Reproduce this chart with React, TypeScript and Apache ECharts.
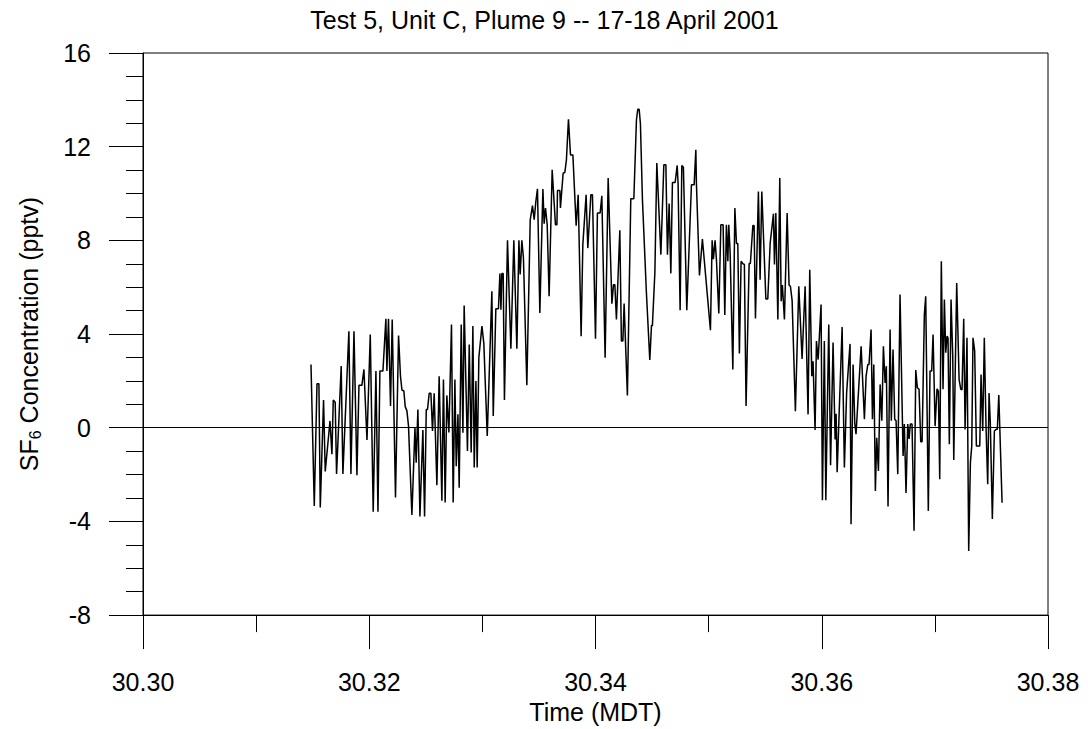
import React, { useEffect, useRef } from "react";
import * as echarts from "echarts";

const TITLE = "Test 5, Unit C, Plume 9 -- 17-18 April 2001";
const X_NAME = "Time (MDT)";
const X_TICKS = [30.3, 30.32, 30.34, 30.36, 30.38];
const Y_TICKS = [-8, -4, 0, 4, 8, 12, 16];

// Time (MDT, decimal day) of each sample
const TIME = [
  30.31485, 30.31514, 30.31538, 30.31555, 30.31567, 30.31596, 30.31611, 30.31653, 30.3167, 30.31682,
  30.31699, 30.31711, 30.31752, 30.31767, 30.3182, 30.31838, 30.31865, 30.31891, 30.31909, 30.31935,
  30.31953, 30.3198, 30.32009, 30.32035, 30.32059, 30.32077, 30.32094, 30.32121, 30.32147, 30.32156,
  30.3217, 30.32188, 30.32203, 30.32232, 30.32259, 30.32276, 30.32289, 30.32306, 30.32318, 30.32333,
  30.32347, 30.32377, 30.32404, 30.32415, 30.3243, 30.32448, 30.32474, 30.32489, 30.32504, 30.32515,
  30.3253, 30.32545, 30.32559, 30.32574, 30.32598, 30.32618, 30.32642, 30.32656, 30.32671, 30.32686,
  30.32704, 30.32727, 30.32742, 30.32757, 30.32769, 30.32784, 30.32795, 30.32813, 30.32828, 30.32839,
  30.32868, 30.32884, 30.32901, 30.32916, 30.32928, 30.32943, 30.32954, 30.32969, 30.32996, 30.33013,
  30.33043, 30.33084, 30.33096, 30.33119, 30.33142, 30.33155, 30.33164, 30.33172, 30.33184, 30.33195,
  30.33222, 30.33252, 30.33278, 30.33305, 30.33323, 30.33334, 30.33349, 30.33363, 30.33393, 30.33423,
  30.33443, 30.33458, 30.33473, 30.33487, 30.33508, 30.33535, 30.33546, 30.33558, 30.33573, 30.3359,
  30.33617, 30.33646, 30.33659, 30.33664, 30.33685, 30.3369, 30.33714, 30.33729, 30.33743, 30.33761,
  30.33779, 30.338, 30.33829, 30.33847, 30.33873, 30.33888, 30.33917, 30.33932, 30.33959, 30.33973,
  30.34, 30.34017, 30.34041, 30.34056, 30.34085, 30.34112, 30.34145, 30.34159, 30.34171, 30.34185,
  30.34215, 30.34229, 30.34242, 30.34253, 30.34282, 30.34312, 30.34339, 30.34362, 30.34374, 30.34386,
  30.34397, 30.34415, 30.3445, 30.3448, 30.34495, 30.34503, 30.34525, 30.34542, 30.34578, 30.34604,
  30.34622, 30.34636, 30.34651, 30.34666, 30.3468, 30.34704, 30.34722, 30.3473, 30.34748, 30.34763,
  30.34777, 30.34807, 30.34848, 30.34872, 30.34887, 30.34892, 30.34919, 30.34945, 30.35016, 30.35031,
  30.35042, 30.35057, 30.35069, 30.3509, 30.35108, 30.35128, 30.35143, 30.35157, 30.3517, 30.35178,
  30.3519, 30.35214, 30.35232, 30.35246, 30.35258, 30.35272, 30.35287, 30.35302, 30.35316, 30.35331,
  30.35358, 30.35369, 30.35391, 30.35402, 30.35414, 30.3544, 30.35455, 30.3547, 30.35506, 30.35523,
  30.35544, 30.35573, 30.35582, 30.35594, 30.35612, 30.35629, 30.35641, 30.35652, 30.3567, 30.35694,
  30.35711, 30.35723, 30.35738, 30.35767, 30.35797, 30.35826, 30.35853, 30.35879, 30.35894, 30.35912,
  30.35923, 30.35941, 30.35953, 30.35968, 30.35994, 30.36006, 30.36023, 30.36036, 30.36062, 30.36078,
  30.361, 30.36118, 30.36127, 30.36136, 30.3618, 30.362, 30.3622, 30.3625, 30.36259, 30.36277,
  30.36292, 30.36303, 30.36348, 30.36377, 30.36392, 30.36407, 30.36418, 30.36436, 30.36448, 30.3646,
  30.36474, 30.36486, 30.36501, 30.36516, 30.36531, 30.36545, 30.3656, 30.36571, 30.36586, 30.36604,
  30.36615, 30.3663, 30.36645, 30.36657, 30.36672, 30.36692, 30.36719, 30.3673, 30.36745, 30.3676,
  30.36772, 30.36783, 30.36798, 30.36816, 30.36831, 30.36845, 30.3686, 30.36875, 30.36887, 30.36907,
  30.36919, 30.36942, 30.36957, 30.36972, 30.36984, 30.37002, 30.37019, 30.37031, 30.37043, 30.37057,
  30.37072, 30.37084, 30.37096, 30.37108, 30.37116, 30.37128, 30.37143, 30.37158, 30.37167, 30.37193,
  30.37214, 30.37229, 30.3724, 30.37255, 30.37267, 30.37284, 30.37299, 30.37314, 30.37326, 30.37337,
  30.37352, 30.37367, 30.37397, 30.37408, 30.37423, 30.37437, 30.37452, 30.37467, 30.37479, 30.3749,
  30.37508, 30.37526, 30.37541, 30.37552, 30.37565, 30.37594,
];

// SF6 concentration (pptv) of each sample
const SF6 = [
  2.7, -3.34, 1.88, 1.88, -3.41, 1.18, -1.87, 0.29, -1.13, 1.18,
  1.09, -1.97, 2.63, -1.97, 4.12, -1.97, 4.12, -2.03, 1.81, 1.81,
  2.49, -0.52, 3.98, -3.59, 2.42, -3.59, 2.42, 2.42, 4.65, 2.42,
  4.65, 0.93, 4.62, -2.98, 3.94, 2.2, 1.61, 1.57, 0.9, 0.72,
  0.08, -3.73, 0.0, -1.49, 0.78, -3.79, -0.1, -3.79, 0.78, 0.78,
  1.47, 1.47, -0.14, 1.47, -2.46, 2.2, -3.12, 2.06, -3.19, 1.38,
  -0.2, 4.41, -3.19, 2.06, -1.64, 0.57, -2.56, 4.41, -0.21, 5.22,
  -0.99, 3.55, -1.06, 4.34, -1.7, 1.99, -1.7, 3.0, 4.34, 3.59,
  -0.35, 5.83, 0.5, 5.08, 5.08, 6.58, 5.04, 6.58, 6.58, 1.18,
  8.0, 3.37, 8.0, 3.37, 8.0, 6.54, 8.0, 7.25, 1.81, 8.88,
  9.48, 8.88, 9.67, 10.2, 4.9, 10.19, 8.71, 9.38, 8.67, 5.61,
  11.01, 8.67, 8.67, 10.13, 10.13, 9.38, 10.87, 10.9, 11.44, 13.17,
  11.65, 11.65, 8.63, 9.95, 3.91, 7.82, 9.95, 7.67, 9.95, 9.95,
  3.8, 9.17, 9.17, 9.9, 2.99, 10.66, 5.3, 6.11, 6.11, 4.62,
  8.43, 3.7, 3.7, 5.3, 1.38, 9.78, 9.78, 13.15, 13.6, 13.6,
  12.99, 9.73, 5.76, 2.89, 4.36, 4.36, 6.64, 11.3, 7.39, 11.23,
  11.23, 7.39, 9.57, 6.59, 10.47, 10.47, 11.2, 10.44, 5.02, 11.2,
  11.12, 5.02, 10.37, 10.37, 11.87, 10.45, 6.5, 8.06, 4.16, 8.0,
  7.2, 8.0, 7.18, 4.88, 8.67, 8.67, 4.81, 8.67, 7.11, 8.67,
  7.5, 2.49, 9.38, 7.87, 7.87, 3.17, 7.11, 7.01, 6.97, 0.93,
  7.01, 7.01, 8.63, 8.63, 4.66, 10.09, 6.32, 10.09, 5.5, 5.5,
  7.88, 9.14, 6.97, 9.17, 4.62, 10.66, 5.4, 6.09, 4.62, 9.17,
  6.09, 6.04, 5.44, 0.71, 6.04, 2.94, 6.04, 0.57, 6.75, 2.2,
  2.84, -0.1, 3.7, 2.91, 5.26, -3.1, 3.7, -3.1, 4.41, -1.6,
  3.64, -0.5, 0.6, -1.9, 4.3, -1.7, 1.5, 3.58, -4.12, 2.7,
  0.2, -0.28, 3.48, 0.36, 2.2, 2.7, 2.7, 4.19, 0.36, 2.7,
  -2.7, -0.43, -1.85, 1.85, 0.3, 3.48, 1.91, 2.63, -3.36, 4.19,
  0.3, 3.34, 0.36, 0.3, -1.98, 5.69, -1.21, 0.16, -2.79, 0.16,
  -0.48, 0.16, 0.16, -4.4, 2.46, 1.71, 1.64, -0.6, -0.6, 4.83,
  5.61, -3.55, 2.42, 2.42, 3.98, 0.07, 1.66, 1.56, -2.2, 7.11,
  1.64, 5.47, 3.2, 3.91, 3.84, -0.71, 5.47, 3.05, -1.38, 6.18,
  2.07, 1.64, 1.62, 4.65, -0.07, 3.84, -5.26, -1.49, -0.78, 3.84,
  3.27, -0.78, -0.78, 2.27, -0.14, 3.84, 0.07, -2.41, 1.48, 0.21,
  -3.9, -0.14, -0.07, -0.07, 1.4, -3.2,
];

const FONT = "'Liberation Sans', Arial, Helvetica, sans-serif";

export default function App() {
  const ref = useRef<HTMLDivElement>(null);

  useEffect(() => {
    if (!ref.current) return;
    const chart = echarts.init(ref.current, undefined, { renderer: "svg" });
    const data = TIME.map((t, i) => [t, SF6[i]]);
    const xMin = X_TICKS[0];
    const xMax = X_TICKS[X_TICKS.length - 1];
    const yMin = Y_TICKS[0];
    const yMax = Y_TICKS[Y_TICKS.length - 1];

    chart.setOption({
      animation: false,
      backgroundColor: "#ffffff",
      textStyle: { fontFamily: FONT, color: "#000" },
      title: {
        text: TITLE,
        left: "center",
        top: 2,
        textStyle: { fontFamily: FONT, fontSize: 25, fontWeight: "normal", color: "#000" },
      },
      grid: {
        left: 143,
        right: 41,
        top: 53,
        bottom: 113,
        show: true,
        borderColor: "#000",
        borderWidth: 1,
        backgroundColor: "transparent",
      },
      xAxis: {
        type: "value",
        min: xMin,
        max: xMax,
        interval: 0.02,
        name: X_NAME,
        nameLocation: "middle",
        nameGap: 80,
        nameTextStyle: { fontFamily: FONT, fontSize: 25, color: "#000" },
        axisLine: { show: true, onZero: false, lineStyle: { color: "#000", width: 1 } },
        axisTick: { show: true, inside: false, length: 34, lineStyle: { color: "#000", width: 1 } },
        minorTick: { show: true, splitNumber: 2, length: 17, lineStyle: { color: "#000", width: 1 } },
        splitLine: { show: false },
        axisLabel: {
          margin: 54,
          fontFamily: FONT,
          fontSize: 25,
          color: "#000",
          formatter: (v: number) => v.toFixed(2),
        },
      },
      yAxis: {
        type: "value",
        min: yMin,
        max: yMax,
        interval: 4,
        name: "{a|SF}{b|6}{a| Concentration (pptv)}",
        nameLocation: "middle",
        nameGap: 100,
        nameRotate: 90,
        nameTextStyle: {
          fontFamily: FONT,
          fontSize: 25,
          color: "#000",
          rich: {
            a: { fontFamily: FONT, fontSize: 25, color: "#000" },
            b: { fontFamily: FONT, fontSize: 16, color: "#000", padding: [12, 0, 0, 0] },
          },
        },
        axisLine: { show: true, onZero: false, lineStyle: { color: "#000", width: 1 } },
        axisTick: { show: true, inside: false, length: 34, lineStyle: { color: "#000", width: 1 } },
        minorTick: { show: true, splitNumber: 4, length: 17, lineStyle: { color: "#000", width: 1 } },
        splitLine: { show: false },
        axisLabel: { margin: 52, fontFamily: FONT, fontSize: 25, color: "#000" },
      },
      series: [
        {
          type: "line",
          data,
          showSymbol: false,
          symbol: "none",
          lineStyle: { color: "#000", width: 1.5 },
          markLine: {
            silent: true,
            symbol: ["none", "none"],
            label: { show: false },
            lineStyle: { color: "#000", width: 1, type: "solid" },
            data: [{ yAxis: 0 }],
          },
        },
      ],
    });

    return () => chart.dispose();
  }, []);

  return (
    <div
      ref={ref}
      style={{ position: "absolute", left: 0, top: 0, width: 1089, height: 729, background: "#fff" }}
    />
  );
}
